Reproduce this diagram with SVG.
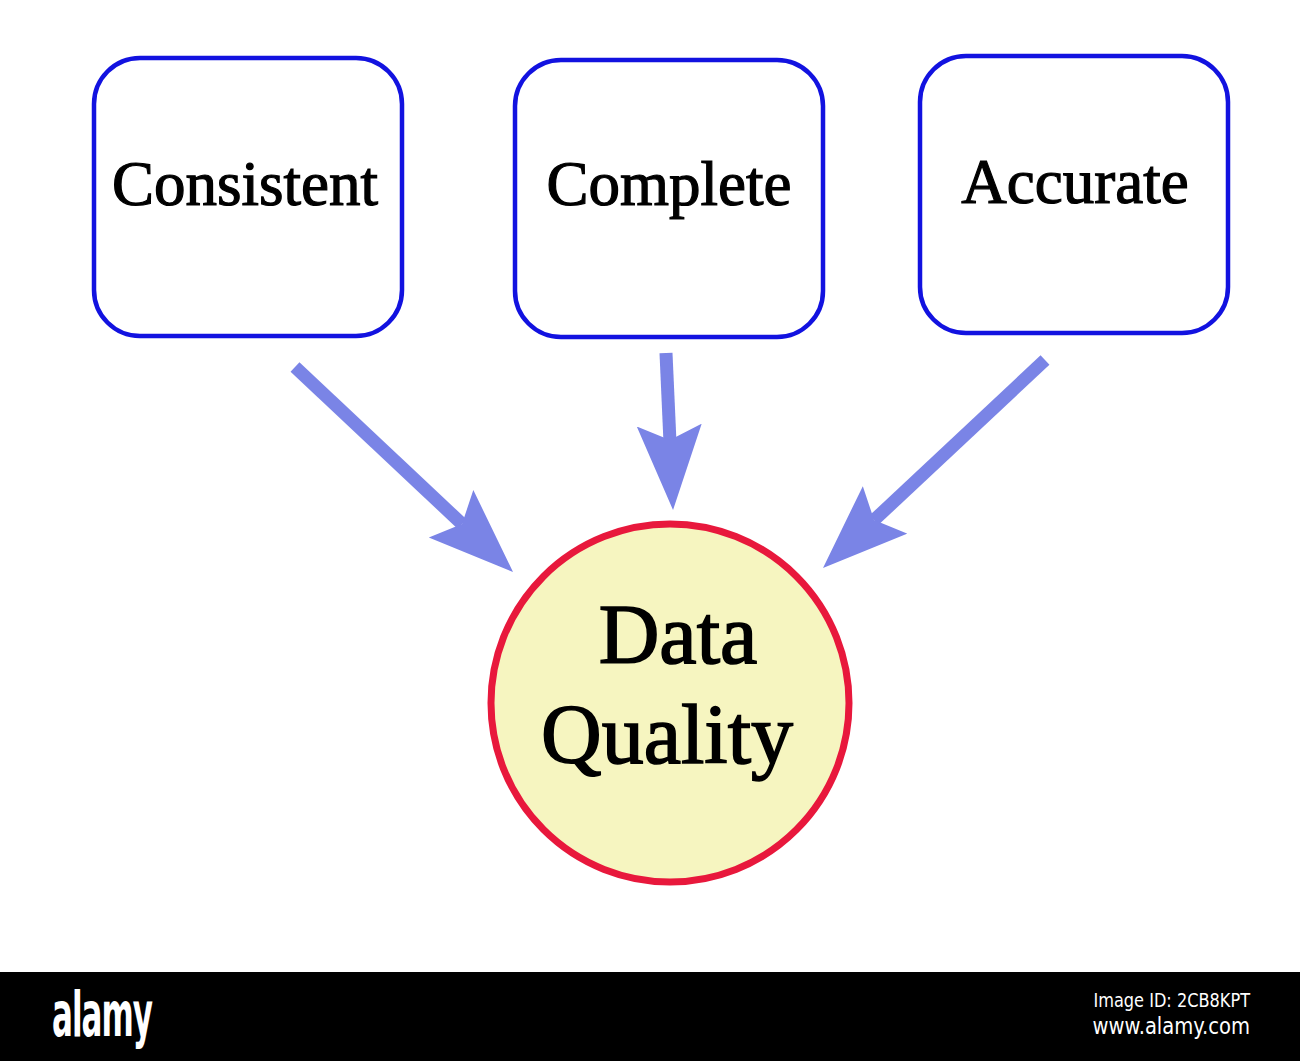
<svg xmlns="http://www.w3.org/2000/svg" width="1300" height="1061" viewBox="0 0 1300 1061">
  <style>
    .box { fill: #ffffff; stroke: #1212e0; stroke-width: 4.5; }
    .lbl { font-family: "Liberation Serif", "Times New Roman", serif; fill: #000; stroke: #000; stroke-width: 1.2; text-anchor: middle; }
    .top { font-size: 63px; }
    .big { font-size: 84px; stroke-width: 1.6; }
    .conn { stroke: #7a84e6; stroke-width: 13; fill: none; }
    .bar { font-family: "DejaVu Sans", sans-serif; fill: #fff; }
  </style>
  <defs>
    <marker id="head" markerUnits="userSpaceOnUse" markerWidth="90" markerHeight="70" viewBox="0 0 90 70" refX="15" refY="32.5" orient="auto">
      <path d="M0,0 L85,32.5 L0,65 L15,32.5 Z" fill="#7a84e6"/>
    </marker>
  </defs>
  <rect width="1300" height="1061" fill="#ffffff"/>

  <g id="connectors">
    <line class="conn" x1="295" y1="367" x2="462" y2="524" marker-end="url(#head)"/>
    <line class="conn" x1="666" y1="353" x2="669.9" y2="440.1" marker-end="url(#head)"/>
    <line class="conn" x1="1045" y1="360" x2="874.1" y2="520.1" marker-end="url(#head)"/>
  </g>

  <g id="consistent">
    <rect class="box" x="94" y="58" width="308" height="278" rx="46"/>
    <text class="lbl top" x="245" y="205">Consistent</text>
  </g>
  <g id="complete">
    <rect class="box" x="515" y="60" width="308" height="277" rx="46"/>
    <text class="lbl top" x="669" y="205">Complete</text>
  </g>
  <g id="accurate">
    <rect class="box" x="920" y="56" width="308" height="277" rx="46"/>
    <text class="lbl top" x="1075" y="203">Accurate</text>
  </g>

  <g id="data-quality">
    <circle cx="670" cy="703" r="179" fill="#f6f5c0" stroke="#e8183c" stroke-width="7"/>
    <text class="lbl big" x="678" y="663">Data</text>
    <text class="lbl big" x="667" y="763">Quality</text>
  </g>

  <g id="footer">
    <rect x="0" y="972" width="1300" height="89" fill="#000000"/>
    <text class="bar" transform="translate(52,1036) scale(0.5,1)" font-size="62" font-weight="bold" letter-spacing="-2">alamy</text>
    <text class="bar" transform="translate(1250,1007) scale(0.85,1)" font-size="19" text-anchor="end">Image ID: 2CB8KPT</text>
    <text class="bar" transform="translate(1250,1034) scale(0.85,1)" font-size="23" text-anchor="end">www.alamy.com</text>
  </g>
</svg>
